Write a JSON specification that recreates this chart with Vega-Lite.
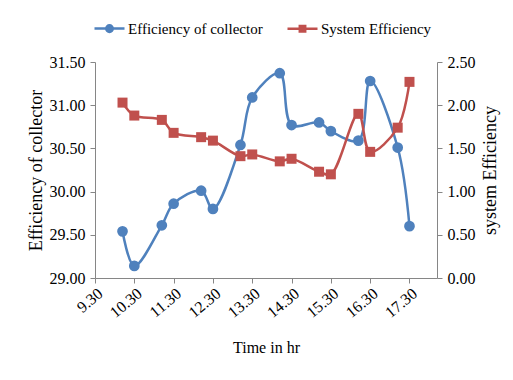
{
  "$schema": "https://vega.github.io/schema/vega-lite/v6.json",
  "width": 342,
  "height": 216,
  "autosize": "none",
  "padding": {"left": 95, "top": 62, "right": 76, "bottom": 102},
  "background": "white",
  "config": {
    "view": {"stroke": null},
    "font": "Liberation Serif",
    "style": {
      "guide-label": {"font": "Liberation Serif", "fill": "#000000"},
      "guide-title": {"font": "Liberation Serif", "fill": "#000000"}
    },
    "axis": {
      "grid": false,
      "domainColor": "#868686",
      "tickColor": "#868686",
      "tickSize": 5,
      "labelFont": "Liberation Serif",
      "labelFontSize": 16,
      "labelColor": "#000000",
      "titleFont": "Liberation Serif",
      "titleFontWeight": "normal",
      "titleColor": "#000000"
    }
  },
  "data": {
    "values": [
      {"time": 10.0, "series": "Efficiency of collector", "value": 29.54},
      {"time": 10.3, "series": "Efficiency of collector", "value": 29.14},
      {"time": 11.0, "series": "Efficiency of collector", "value": 29.61},
      {"time": 11.3, "series": "Efficiency of collector", "value": 29.86},
      {"time": 12.0, "series": "Efficiency of collector", "value": 30.01},
      {"time": 12.3, "series": "Efficiency of collector", "value": 29.80},
      {"time": 13.0, "series": "Efficiency of collector", "value": 30.54},
      {"time": 13.3, "series": "Efficiency of collector", "value": 31.09},
      {"time": 14.0, "series": "Efficiency of collector", "value": 31.37},
      {"time": 14.3, "series": "Efficiency of collector", "value": 30.77},
      {"time": 15.0, "series": "Efficiency of collector", "value": 30.80},
      {"time": 15.3, "series": "Efficiency of collector", "value": 30.70},
      {"time": 16.0, "series": "Efficiency of collector", "value": 30.59},
      {"time": 16.3, "series": "Efficiency of collector", "value": 31.28},
      {"time": 17.0, "series": "Efficiency of collector", "value": 30.51},
      {"time": 17.3, "series": "Efficiency of collector", "value": 29.60},
      {"time": 10.0, "series": "System Efficiency", "value": 2.03},
      {"time": 10.3, "series": "System Efficiency", "value": 1.88},
      {"time": 11.0, "series": "System Efficiency", "value": 1.83},
      {"time": 11.3, "series": "System Efficiency", "value": 1.68},
      {"time": 12.0, "series": "System Efficiency", "value": 1.63},
      {"time": 12.3, "series": "System Efficiency", "value": 1.59},
      {"time": 13.0, "series": "System Efficiency", "value": 1.41},
      {"time": 13.3, "series": "System Efficiency", "value": 1.43},
      {"time": 14.0, "series": "System Efficiency", "value": 1.35},
      {"time": 14.3, "series": "System Efficiency", "value": 1.38},
      {"time": 15.0, "series": "System Efficiency", "value": 1.23},
      {"time": 15.3, "series": "System Efficiency", "value": 1.20},
      {"time": 16.0, "series": "System Efficiency", "value": 1.90},
      {"time": 16.3, "series": "System Efficiency", "value": 1.46},
      {"time": 17.0, "series": "System Efficiency", "value": 1.74},
      {"time": 17.3, "series": "System Efficiency", "value": 2.27}
    ]
  },
  "encoding": {
    "x": {
      "field": "time",
      "type": "quantitative",
      "scale": {"domain": [9.3, 18.0], "nice": false, "zero": false},
      "axis": {
        "title": "Time in hr",
        "titleFont": "Liberation Serif",
        "titleFontSize": 16,
        "titlePadding": 19,
        "values": [9.3, 10.3, 11.3, 12.3, 13.3, 14.3, 15.3, 16.3, 17.3],
        "format": ".2f",
        "labelFont": "Liberation Serif",
        "labelAngle": -40,
        "labelPadding": 2
      }
    },
    "color": {
      "field": "series",
      "type": "nominal",
      "scale": {
        "domain": ["Efficiency of collector", "System Efficiency"],
        "range": ["#4F81BD", "#C0504D"]
      },
      "legend": {
        "title": null,
        "orient": "none",
        "direction": "horizontal",
        "legendX": -2,
        "legendY": -50,
        "padding": 0,
        "symbolSize": 900,
        "labelFont": "Liberation Serif",
        "labelFontSize": 15,
        "labelColor": "#000000",
        "labelOffset": 2,
        "columnPadding": 19,
        "encode": {
          "symbols": {
            "update": {
              "shape": {"signal": "datum.value === 'System Efficiency' ? 'M-1,0L1,0M-0.18,-0.18L0.18,-0.18L0.18,0.18L-0.18,0.18Z' : 'M-1,0L1,0M-0.22,0A0.22,0.22 0 1,0 0.22,0A0.22,0.22 0 1,0 -0.22,0Z'"},
              "fill": {"signal": "datum.value === 'System Efficiency' ? '#C0504D' : '#4F81BD'"},
              "stroke": {"signal": "datum.value === 'System Efficiency' ? '#C0504D' : '#4F81BD'"},
              "strokeWidth": {"value": 2.5},
              "opacity": {"value": 1}
            }
          }
        }
      }
    }
  },
  "layer": [
    {
      "transform": [{"filter": "datum.series === 'Efficiency of collector'"}],
      "encoding": {
        "y": {
          "field": "value",
          "type": "quantitative",
          "scale": {"domain": [29, 31.5], "nice": false, "zero": false},
          "axis": {
            "orient": "left",
            "title": "Efficiency of collector",
            "titleFont": "Liberation Serif",
            "titleFontSize": 18,
            "titlePadding": 4,
            "values": [29, 29.5, 30, 30.5, 31, 31.5],
            "format": ".2f",
            "labelFont": "Liberation Serif",
            "labelPadding": 5
          }
        }
      },
      "layer": [
        {"mark": {"type": "line", "interpolate": "catmull-rom", "strokeWidth": 2.5}},
        {"mark": {"type": "point", "shape": "circle", "filled": true, "opacity": 1, "size": 115}}
      ]
    },
    {
      "transform": [{"filter": "datum.series === 'System Efficiency'"}],
      "encoding": {
        "y": {
          "field": "value",
          "type": "quantitative",
          "scale": {"domain": [0, 2.5], "nice": false, "zero": false},
          "axis": {
            "orient": "right",
            "title": "system Efficiency",
            "titleFont": "Liberation Serif",
            "titleFontSize": 18,
            "titleAngle": 270,
            "titleBaseline": "top",
            "titlePadding": 6,
            "values": [0, 0.5, 1, 1.5, 2, 2.5],
            "format": ".2f",
            "labelFont": "Liberation Serif",
            "labelPadding": 5
          }
        }
      },
      "layer": [
        {"mark": {"type": "line", "interpolate": "catmull-rom", "strokeWidth": 2.5}},
        {"mark": {"type": "point", "shape": "square", "filled": true, "opacity": 1, "size": 100}}
      ]
    }
  ],
  "resolve": {"scale": {"y": "independent"}}
}
